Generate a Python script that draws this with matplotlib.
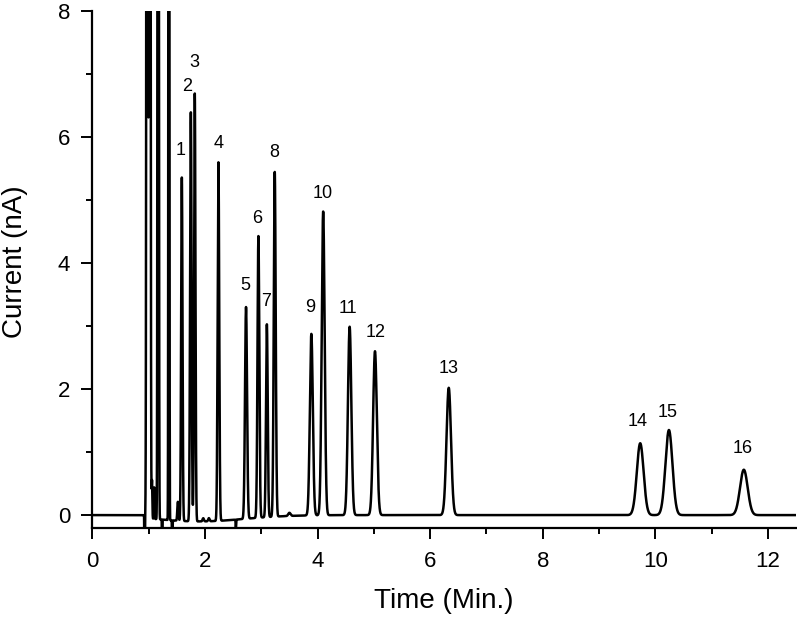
import numpy as np
import matplotlib
matplotlib.use("Agg")
import matplotlib.pyplot as plt

plt.rcParams['font.family'] = ['Liberation Sans', 'DejaVu Sans']

# Peak table (retention time, height in nA, sigma in min)
peak_times   = [1.59, 1.75, 1.82, 2.24, 2.73, 2.95, 3.10, 3.24, 3.89, 4.10, 4.57, 5.02, 6.33, 9.73, 10.24, 11.57]
peak_heights = [5.45, 6.49, 6.79, 5.69, 3.36, 4.47, 3.06, 5.47, 2.88, 4.82, 2.99, 2.60, 2.02, 1.14, 1.35, 0.72]
peak_sigmas  = [0.012, 0.013, 0.012, 0.014, 0.018, 0.016, 0.015, 0.017, 0.026, 0.026, 0.030, 0.033, 0.040, 0.060, 0.062, 0.068]
peak_labels  = ['1', '2', '3', '4', '5', '6', '7', '8', '9', '10', '11', '12', '13', '14', '15', '16']
label_x      = [1.56, 1.69, 1.82, 2.25, 2.71, 2.92, 3.09, 3.23, 3.87, 4.10, 4.54, 5.03, 6.33, 9.68, 10.22, 11.55]
label_y      = [5.79, 6.80, 7.18, 5.90, 3.65, 4.70, 3.39, 5.75, 3.30, 5.11, 3.28, 2.89, 2.33, 1.48, 1.63, 1.06]

# Solvent front / system peaks (off scale) and dips
front_times   = [0.93, 0.975, 1.02, 1.06, 1.10, 1.17, 1.24, 1.36, 1.42, 1.52, 1.97, 2.07, 2.55, 3.50]
front_heights = [-1.0, 40.0, 40.0, 0.6, 0.5, 40.0, -1.0, 40.0, -0.6, 0.3, 0.05, 0.05, -0.15, 0.05]
front_sigmas  = [0.004, 0.010, 0.010, 0.006, 0.006, 0.008, 0.003, 0.006, 0.004, 0.010, 0.012, 0.012, 0.004, 0.02]

# Baseline drift after injection (start, depth, recovery)
drift_start, drift_depth, drift_center, drift_sigma = 0.92, -0.10, 1.9, 0.8

x_ticks = [0, 2, 4, 6, 8, 10, 12]
y_ticks = [0, 2, 4, 6, 8]

t = np.linspace(0, 12.5, 25001)
signal = np.zeros_like(t)
for c, h, s in zip(peak_times + front_times, peak_heights + front_heights, peak_sigmas + front_sigmas):
    signal += h * np.exp(-0.5 * ((t - c) / s) ** 2)
drift = drift_depth * np.exp(-0.5 * ((t - drift_center) / drift_sigma) ** 2)
drift[t < drift_start] = 0
signal += drift

fig = plt.figure(figsize=(7.97, 6.18), dpi=100)
ax = fig.add_axes([0.1158, 0.1451, 0.8832, 0.8371])
ax.plot(t, signal, color='black', lw=1.8)

ax.set_xlim(0, 12.5)
ax.set_ylim(-0.21, 8)
ax.set_xticks(x_ticks)
ax.set_yticks(y_ticks)
ax.set_xticks([1, 3, 5, 7, 9, 11], minor=True)
ax.set_yticks([1, 3, 5, 7], minor=True)
ax.tick_params(which='major', direction='out', length=8, width=1.4, labelsize=16, pad=8)
ax.tick_params(which='minor', direction='out', length=4.5, width=1.4)
for side in ['top', 'right']:
    ax.spines[side].set_visible(False)
for side in ['left', 'bottom']:
    ax.spines[side].set_linewidth(1.6)

for lx, ly, lab in zip(label_x, label_y, peak_labels):
    ax.text(lx, ly, lab, ha='center', va='center', fontsize=13)

fig.text(444 / 797, 1 - 601 / 618, 'Time (Min.)', ha='center', va='center', fontsize=20)
fig.text(15 / 797, 1 - 262 / 618, 'Current (nA)', ha='center', va='center', rotation=90, fontsize=20)

fig.savefig('out.png', dpi=100)
